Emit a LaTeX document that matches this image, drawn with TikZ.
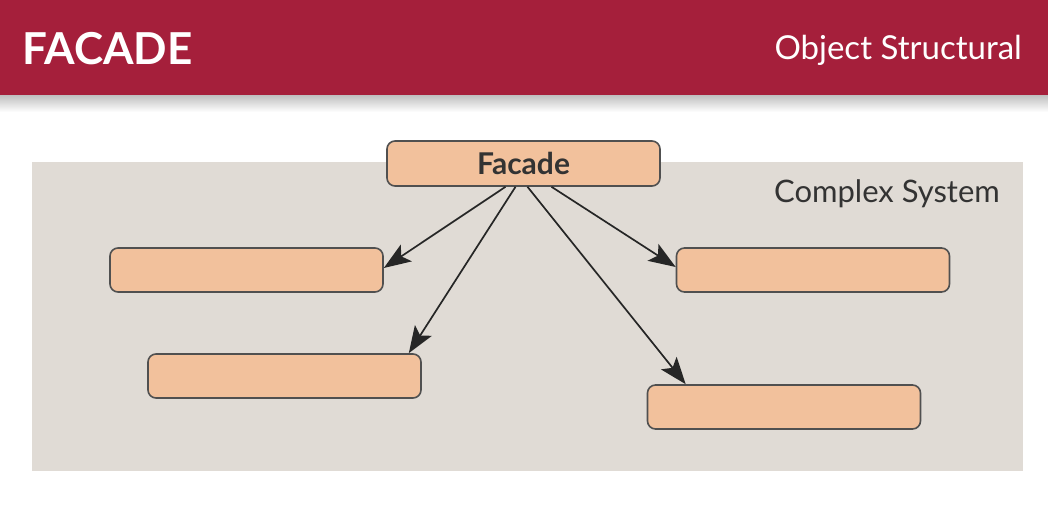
\documentclass[tikz,border=0pt]{standalone}
\usepackage{fontspec}
\setmainfont{Lato}
\usetikzlibrary{arrows.meta,calc}
\definecolor{hdr}{HTML}{A51F3B}
\definecolor{panel}{HTML}{E0DBD5}
\definecolor{boxfill}{HTML}{F2C19C}
\definecolor{boxline}{HTML}{505050}
\definecolor{txt}{HTML}{333333}
\definecolor{arr}{HTML}{262626}
\begin{document}
\begin{tikzpicture}[x=1pt,y=-1pt,
  sysbox/.style={draw=boxline,line width=1.6pt,fill=boxfill,rounded corners=8pt,
    minimum width=273pt,minimum height=44pt,inner sep=0pt},
  conn/.style={draw=arr,line width=1.7pt,-{Stealth[length=27pt,width=20pt,inset=6pt]}}]
\useasboundingbox (0,0) rectangle (1048,514);
\fill[white] (0,0) rectangle (1048,514);
% header
\shade[top color=black!25,bottom color=white] (0,95) rectangle (1048,112);
\fill[hdr] (0,0) rectangle (1048,95);
\node[anchor=base west,inner sep=0pt,text=white,font=\fontsize{44}{44}\selectfont\bfseries] (title) at (22,64) {FACADE};
\node[anchor=base east,inner sep=0pt,text=white,font=\fontsize{33}{33}\selectfont] (cat) at (1022,59) {Object Structural};
% panel
\fill[panel] (32,162) rectangle (1023,471);
\node[anchor=base east,inner sep=0pt,text=txt,font=\fontsize{31}{31}\selectfont] (cs) at (1000,202) {Complex System};
% boxes
\node[sysbox,minimum width=273pt,minimum height=45pt,text=txt,font=\fontsize{30}{30}\selectfont\bfseries] (facade) at (523.5,163.5) {Facade};
\node[sysbox] (l1) at (246.5,270) {};
\node[sysbox] (l2) at (284.5,376) {};
\node[sysbox] (r1) at (813,270) {};
\node[sysbox] (r2) at (784,407) {};
% connectors
\draw[conn] ([xshift=-18pt]facade.south) -- ([yshift=2pt]l1.east);
\draw[conn] ([xshift=-8pt]facade.south) -- ([xshift=-13pt]l2.north east);
\draw[conn] ([xshift=4pt]facade.south) -- ([xshift=39pt]r2.north west);
\draw[conn] ([xshift=28pt]facade.south) -- ([yshift=3pt]r1.west);
\end{tikzpicture}
\end{document}
